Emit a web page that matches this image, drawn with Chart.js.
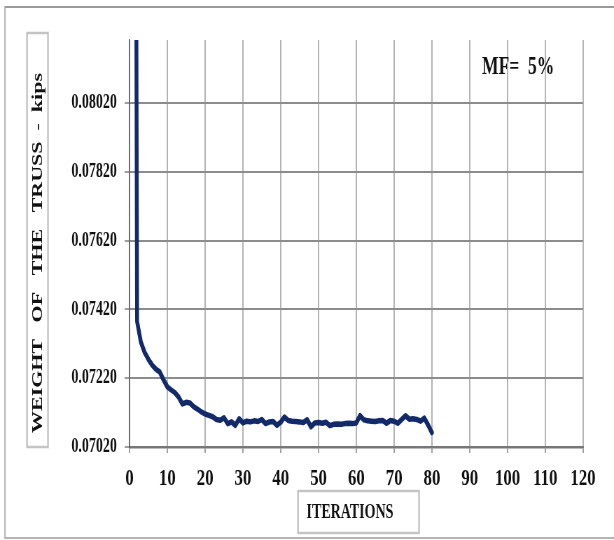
<!DOCTYPE html>
<html>
<head>
<meta charset="utf-8">
<script src="https://cdn.jsdelivr.net/npm/chart.js@4.4.1/dist/chart.umd.min.js"></script>
<style>
  html, body { margin: 0; padding: 0; overflow: hidden; background: #fff; }
  #wrap { width: 614px; height: 540px; overflow: hidden; }
  #chart { display: block; transform-origin: 0 0; background: #fff; }
</style>
</head>
<body>
<div id="wrap"><canvas id="chart"></canvas></div>
<script>
const iterations = [
  1, 2, 3, 4, 5, 6, 7, 8, 9, 10,
  11, 12, 13, 14, 15, 16, 17, 18, 19, 20,
  21, 22, 23, 24, 25, 26, 27, 28, 29, 30,
  31, 32, 33, 34, 35, 36, 37, 38, 39, 40,
  41, 42, 43, 44, 45, 46, 47, 48, 49, 50,
  51, 52, 53, 54, 55, 56, 57, 58, 59, 60,
  61, 62, 63, 64, 65, 66, 67, 68, 69, 70,
  71, 72, 73, 74, 75, 76, 77, 78, 79, 80
];

// weight of the truss (kips) per iteration
const weights = [
  0.12000, 0.07385, 0.07325, 0.07295, 0.07275, 0.07258, 0.07246, 0.07238, 0.07215, 0.07195,
  0.07186, 0.07178, 0.07165, 0.07145, 0.07150, 0.07148, 0.07137, 0.07130, 0.07122, 0.07116,
  0.07112, 0.07108, 0.07100, 0.07098, 0.07105, 0.07088, 0.07093, 0.07083, 0.07102, 0.07090,
  0.07095, 0.07093, 0.07096, 0.07094, 0.07100, 0.07088, 0.07093, 0.07094, 0.07083, 0.07092,
  0.07107, 0.07097, 0.07095, 0.07094, 0.07093, 0.07091, 0.07099, 0.07079, 0.07090, 0.07091,
  0.07089, 0.07092, 0.07082, 0.07086, 0.07087, 0.07086, 0.07088, 0.07089, 0.07088, 0.07090,
  0.07111, 0.07099, 0.07096, 0.07095, 0.07094, 0.07096, 0.07097, 0.07089, 0.07097, 0.07095,
  0.07089, 0.07100, 0.07111, 0.07101, 0.07102, 0.07100, 0.07095, 0.07104, 0.07084, 0.07062
];

const yTicks = [0.07020, 0.07220, 0.07420, 0.07620, 0.07820, 0.08020];
const xTicks = [0, 10, 20, 30, 40, 50, 60, 70, 80, 90, 100, 110, 120];

const yTitle = "WEIGHT   OF   THE   TRUSS  -  kips";
const xTitle = "ITERATIONS";
const note = "MF=  5%";

const serif = "'Liberation Serif', 'Times New Roman', serif";

// the source figure is squeezed sideways: draw on a wider canvas and narrow it
const SQUEEZE = 0.7;
const W = Math.round(614 / SQUEEZE);
const H = 540;
const X = sx => sx / SQUEEZE;

const canvas = document.getElementById("chart");
canvas.width = W;
canvas.height = H;
canvas.style.width = W + "px";
canvas.style.height = H + "px";
canvas.style.transform = "scaleX(" + (614 / W) + ")";

const decorations = {
  id: "decorations",
  afterDraw(chart) {
    const ctx = chart.ctx;
    const area = chart.chartArea;
    ctx.save();

    // outer frame
    ctx.strokeStyle = "#b4b4b4";
    ctx.lineWidth = 2;
    ctx.strokeRect(X(5), 7, W, 531);
    ctx.strokeStyle = "#9a9a9a";
    ctx.beginPath();
    ctx.moveTo(X(5), 7);
    ctx.lineTo(W, 7);
    ctx.stroke();

    // y title box
    ctx.strokeStyle = "#c4c4c4";
    ctx.lineWidth = 2.5;
    ctx.strokeRect(X(27), 33, X(48) - X(27), area.bottom - 33);
    ctx.fillStyle = "#111";
    ctx.font = "bold 22px " + serif;
    ctx.textAlign = "center";
    ctx.textBaseline = "middle";
    ctx.translate(X(38), 253);
    ctx.rotate(-Math.PI / 2);
    ctx.fillText(yTitle, 0, 0);
    ctx.setTransform(1, 0, 0, 1, 0, 0);

    // x title box
    ctx.strokeStyle = "#c4c4c4";
    ctx.strokeRect(X(298), 491, X(419) - X(298), 42);
    ctx.textAlign = "left";
    ctx.font = "bold 20px " + serif;
    ctx.fillText(xTitle, X(306.5), 513);

    // note
    ctx.font = "bold 25px " + serif;
    ctx.textBaseline = "alphabetic";
    ctx.fillText(note, X(482), 74);

    ctx.restore();
  }
};

new Chart(canvas, {
  type: "line",
  data: {
    datasets: [{
      data: iterations.map((it, i) => ({ x: it, y: weights[i] })),
      borderColor: "#12296a",
      borderWidth: 5.5,
      borderJoinStyle: "round",
      borderCapStyle: "round",
      pointRadius: 0,
      tension: 0,
      fill: false
    }]
  },
  options: {
    responsive: false,
    animation: false,
    devicePixelRatio: 1,
    layout: { padding: { top: 40, right: W - X(583), left: 0, bottom: 0 } },
    plugins: { legend: { display: false }, tooltip: { enabled: false } },
    scales: {
      x: {
        type: "linear",
        min: 0,
        max: 120,
        afterFit(scale) { scale.height = 93; },
        afterBuildTicks(scale) { scale.ticks = xTicks.map(v => ({ value: v })); },
        grid: { color: "#b4b4b4", lineWidth: 2, tickLength: 6, tickColor: "#a0a0a0" },
        border: { color: "#777", width: 2.5 },
        ticks: {
          padding: 11,
          maxRotation: 0,
          color: "#111",
          font: { family: serif, size: 24, weight: "bold" }
        }
      },
      y: {
        min: 0.0702,
        max: 0.08203,
        afterFit(scale) { scale.width = X(129.5); },
        afterBuildTicks(scale) { scale.ticks = yTicks.map(v => ({ value: v })); },
        grid: { color: "#8c8c8c", lineWidth: 2, tickLength: 7, tickColor: "#a0a0a0" },
        border: { color: "#555", width: 1.5 },
        ticks: {
          padding: 11,
          color: "#111",
          font: { family: serif, size: 20, weight: "bold" },
          callback: v => v.toFixed(5)
        }
      }
    }
  },
  plugins: [decorations]
});
</script>
</body>
</html>
